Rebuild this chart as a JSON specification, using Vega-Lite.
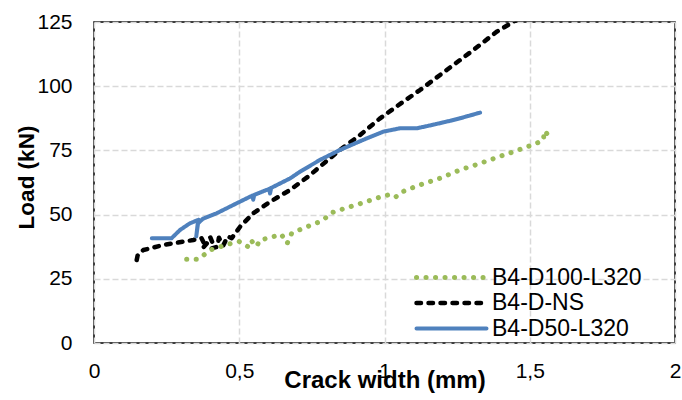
{
  "$schema": "https://vega.github.io/schema/vega-lite/v6.json",
  "width": 581,
  "height": 321,
  "autosize": {"type": "none"},
  "padding": {"left": 94, "top": 22, "right": 7, "bottom": 57},
  "background": "white",
  "config": {
    "font": "Liberation Sans",
    "view": {"stroke": "black", "strokeWidth": 1.5},
    "axis": {
      "domain": false,
      "ticks": false,
      "tickSize": 0,
      "grid": true,
      "gridColor": "#D9D9D9",
      "gridDash": [6, 3],
      "gridWidth": 1.5,
      "labelFont": "Liberation Sans",
      "labelFontSize": 21,
      "labelColor": "#000000",
      "labelFlush": false,
      "titleFont": "Liberation Sans",
      "titleFontSize": 22.5,
      "titleFontWeight": "bold",
      "titleColor": "#000000"
    }
  },
  "data": {
    "values": [
      {"s": "B4-D-NS", "i": 1, "x": 0.147, "y": 32.3},
      {"s": "B4-D-NS", "i": 2, "x": 0.150, "y": 34.0},
      {"s": "B4-D-NS", "i": 3, "x": 0.170, "y": 36.2},
      {"s": "B4-D-NS", "i": 4, "x": 0.239, "y": 38.2},
      {"s": "B4-D-NS", "i": 5, "x": 0.342, "y": 40.1},
      {"s": "B4-D-NS", "i": 6, "x": 0.370, "y": 40.8},
      {"s": "B4-D-NS", "i": 7, "x": 0.380, "y": 38.5},
      {"s": "B4-D-NS", "i": 8, "x": 0.375, "y": 37.0},
      {"s": "B4-D-NS", "i": 9, "x": 0.390, "y": 39.0},
      {"s": "B4-D-NS", "i": 10, "x": 0.400, "y": 41.2},
      {"s": "B4-D-NS", "i": 11, "x": 0.410, "y": 38.5},
      {"s": "B4-D-NS", "i": 12, "x": 0.405, "y": 36.8},
      {"s": "B4-D-NS", "i": 13, "x": 0.425, "y": 37.5},
      {"s": "B4-D-NS", "i": 14, "x": 0.430, "y": 41.0},
      {"s": "B4-D-NS", "i": 15, "x": 0.445, "y": 38.0},
      {"s": "B4-D-NS", "i": 16, "x": 0.460, "y": 41.5},
      {"s": "B4-D-NS", "i": 17, "x": 0.474, "y": 40.8},
      {"s": "B4-D-NS", "i": 18, "x": 0.503, "y": 45.3},
      {"s": "B4-D-NS", "i": 19, "x": 0.548, "y": 50.5},
      {"s": "B4-D-NS", "i": 20, "x": 0.606, "y": 55.0},
      {"s": "B4-D-NS", "i": 21, "x": 0.675, "y": 59.6},
      {"s": "B4-D-NS", "i": 22, "x": 0.744, "y": 65.4},
      {"s": "B4-D-NS", "i": 23, "x": 0.778, "y": 68.7},
      {"s": "B4-D-NS", "i": 24, "x": 0.847, "y": 75.2},
      {"s": "B4-D-NS", "i": 25, "x": 0.916, "y": 81.0},
      {"s": "B4-D-NS", "i": 26, "x": 0.985, "y": 87.5},
      {"s": "B4-D-NS", "i": 27, "x": 1.065, "y": 94.0},
      {"s": "B4-D-NS", "i": 28, "x": 1.122, "y": 98.5},
      {"s": "B4-D-NS", "i": 29, "x": 1.214, "y": 106.3},
      {"s": "B4-D-NS", "i": 30, "x": 1.306, "y": 114.1},
      {"s": "B4-D-NS", "i": 31, "x": 1.386, "y": 121.2},
      {"s": "B4-D-NS", "i": 32, "x": 1.450, "y": 125.5},

      {"s": "B4-D50-L320", "i": 1, "x": 0.199, "y": 40.8},
      {"s": "B4-D50-L320", "i": 2, "x": 0.267, "y": 40.8},
      {"s": "B4-D50-L320", "i": 3, "x": 0.296, "y": 44.0},
      {"s": "B4-D50-L320", "i": 4, "x": 0.330, "y": 46.6},
      {"s": "B4-D50-L320", "i": 5, "x": 0.360, "y": 48.0},
      {"s": "B4-D50-L320", "i": 6, "x": 0.352, "y": 41.5},
      {"s": "B4-D50-L320", "i": 7, "x": 0.357, "y": 46.5},
      {"s": "B4-D50-L320", "i": 8, "x": 0.375, "y": 48.4},
      {"s": "B4-D50-L320", "i": 9, "x": 0.422, "y": 50.5},
      {"s": "B4-D50-L320", "i": 10, "x": 0.491, "y": 54.4},
      {"s": "B4-D50-L320", "i": 11, "x": 0.545, "y": 57.4},
      {"s": "B4-D50-L320", "i": 12, "x": 0.548, "y": 55.8},
      {"s": "B4-D50-L320", "i": 13, "x": 0.552, "y": 57.7},
      {"s": "B4-D50-L320", "i": 14, "x": 0.603, "y": 60.0},
      {"s": "B4-D50-L320", "i": 15, "x": 0.606, "y": 58.2},
      {"s": "B4-D50-L320", "i": 16, "x": 0.610, "y": 60.4},
      {"s": "B4-D50-L320", "i": 17, "x": 0.675, "y": 64.1},
      {"s": "B4-D50-L320", "i": 18, "x": 0.709, "y": 66.7},
      {"s": "B4-D50-L320", "i": 19, "x": 0.778, "y": 71.3},
      {"s": "B4-D50-L320", "i": 20, "x": 0.847, "y": 75.2},
      {"s": "B4-D50-L320", "i": 21, "x": 0.939, "y": 79.7},
      {"s": "B4-D50-L320", "i": 22, "x": 0.996, "y": 82.3},
      {"s": "B4-D50-L320", "i": 23, "x": 1.053, "y": 83.6},
      {"s": "B4-D50-L320", "i": 24, "x": 1.111, "y": 83.6},
      {"s": "B4-D50-L320", "i": 25, "x": 1.160, "y": 84.8},
      {"s": "B4-D50-L320", "i": 26, "x": 1.225, "y": 86.5},
      {"s": "B4-D50-L320", "i": 27, "x": 1.260, "y": 87.5},
      {"s": "B4-D50-L320", "i": 28, "x": 1.329, "y": 89.7},

      {"s": "B4-D100-L320", "i": 1, "x": 0.319, "y": 32.6},
      {"s": "B4-D100-L320", "i": 2, "x": 0.359, "y": 32.6},
      {"s": "B4-D100-L320", "i": 3, "x": 0.400, "y": 36.2},
      {"s": "B4-D100-L320", "i": 4, "x": 0.460, "y": 38.4},
      {"s": "B4-D100-L320", "i": 5, "x": 0.500, "y": 39.5},
      {"s": "B4-D100-L320", "i": 6, "x": 0.530, "y": 37.5},
      {"s": "B4-D100-L320", "i": 7, "x": 0.540, "y": 40.0},
      {"s": "B4-D100-L320", "i": 8, "x": 0.560, "y": 37.6},
      {"s": "B4-D100-L320", "i": 9, "x": 0.570, "y": 40.0},
      {"s": "B4-D100-L320", "i": 10, "x": 0.610, "y": 41.2},
      {"s": "B4-D100-L320", "i": 11, "x": 0.645, "y": 42.3},
      {"s": "B4-D100-L320", "i": 12, "x": 0.665, "y": 38.8},
      {"s": "B4-D100-L320", "i": 13, "x": 0.680, "y": 42.6},
      {"s": "B4-D100-L320", "i": 14, "x": 0.720, "y": 44.7},
      {"s": "B4-D100-L320", "i": 15, "x": 0.770, "y": 46.9},
      {"s": "B4-D100-L320", "i": 16, "x": 0.810, "y": 49.6},
      {"s": "B4-D100-L320", "i": 17, "x": 0.820, "y": 50.8},
      {"s": "B4-D100-L320", "i": 18, "x": 0.860, "y": 52.3},
      {"s": "B4-D100-L320", "i": 19, "x": 0.920, "y": 54.4},
      {"s": "B4-D100-L320", "i": 20, "x": 0.990, "y": 57.0},
      {"s": "B4-D100-L320", "i": 21, "x": 1.025, "y": 58.0},
      {"s": "B4-D100-L320", "i": 22, "x": 1.040, "y": 57.0},
      {"s": "B4-D100-L320", "i": 23, "x": 1.055, "y": 58.6},
      {"s": "B4-D100-L320", "i": 24, "x": 1.120, "y": 61.5},
      {"s": "B4-D100-L320", "i": 25, "x": 1.190, "y": 64.1},
      {"s": "B4-D100-L320", "i": 26, "x": 1.260, "y": 67.4},
      {"s": "B4-D100-L320", "i": 27, "x": 1.323, "y": 69.7},
      {"s": "B4-D100-L320", "i": 28, "x": 1.388, "y": 72.3},
      {"s": "B4-D100-L320", "i": 29, "x": 1.455, "y": 74.9},
      {"s": "B4-D100-L320", "i": 30, "x": 1.518, "y": 77.5},
      {"s": "B4-D100-L320", "i": 31, "x": 1.547, "y": 79.0},
      {"s": "B4-D100-L320", "i": 32, "x": 1.550, "y": 82.6},
      {"s": "B4-D100-L320", "i": 33, "x": 1.564, "y": 81.0}
    ]
  },
  "mark": {"type": "line", "strokeCap": "round", "strokeJoin": "round", "clip": true},
  "encoding": {
    "x": {
      "field": "x",
      "type": "quantitative",
      "scale": {"domain": [0, 2], "nice": false},
      "axis": {
        "values": [0, 0.5, 1, 1.5, 2],
        "labelExpr": "replace(format(datum.value, '~g'), '.', ',')",
        "labelPadding": 34,
        "labelBaseline": "alphabetic",
        "title": "Crack width (mm)",
        "titleFontSize": 24,
        "titleBaseline": "alphabetic",
        "titleY": 44
      }
    },
    "y": {
      "field": "y",
      "type": "quantitative",
      "scale": {"domain": [0, 125], "nice": false},
      "axis": {
        "values": [0, 25, 50, 75, 100, 125],
        "labelPadding": 22,
        "title": "Load (kN)",
        "titleBaseline": "middle",
        "titleX": -68,
        "titleY": 155
      }
    },
    "order": {"field": "i", "type": "quantitative"},
    "color": {
      "field": "s",
      "type": "nominal",
      "scale": {
        "domain": ["B4-D100-L320", "B4-D-NS", "B4-D50-L320"],
        "range": ["#9BBB59", "#000000", "#4F81BD"]
      },
      "legend": {
        "orient": "none",
        "legendX": 346,
        "legendY": 244,
        "title": null,
        "padding": 0,
        "symbolType": "M-5,0H5",
        "symbolSize": 196,
        "labelFontSize": 23,
        "labelColor": "#000000",
        "labelOffset": 29,
        "rowPadding": 1.5,
        "encode": {"symbols": {"update": {"strokeCap": {"value": "round"}}}}
      }
    },
    "strokeDash": {
      "field": "s",
      "type": "nominal",
      "scale": {
        "domain": ["B4-D100-L320", "B4-D-NS", "B4-D50-L320"],
        "range": [[0.1, 9.4], [4.5, 7.5], [1, 0]]
      },
      "legend": null
    },
    "strokeWidth": {
      "field": "s",
      "type": "nominal",
      "scale": {
        "domain": ["B4-D100-L320", "B4-D-NS", "B4-D50-L320"],
        "range": [5, 4, 3.5]
      },
      "legend": null
    }
  }
}
